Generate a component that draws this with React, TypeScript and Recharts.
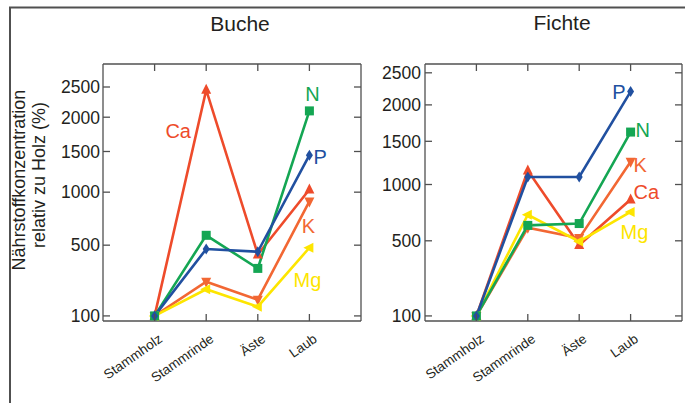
import React from 'react'
import { LineChart, Line, XAxis, YAxis } from 'recharts'

const categories = ['Stammholz', 'Stammrinde', 'Äste', 'Laub']
const yTicks = [100, 500, 1000, 1500, 2000, 2500]

// Buche (relative to Stammholz = 100 %)
const bucheN = [100, 580, 335, 2100]
const bucheP = [100, 470, 450, 1450]
const bucheCa = [100, 2450, 430, 1030]
const bucheK = [100, 255, 165, 900]
const bucheMg = [100, 215, 135, 480]

// Fichte
const fichteN = [100, 620, 635, 1620]
const fichteP = [100, 1080, 1080, 2200]
const fichteCa = [100, 1150, 470, 850]
const fichteK = [100, 600, 520, 1250]
const fichteMg = [100, 710, 495, 735]

const FONT = '"Liberation Sans", Arial, Helvetica, sans-serif'
const INK = '#231f20'
const AXIS = '#505050'

const COLORS: Record<string, string> = {
  N: '#14a653',
  P: '#2150a0',
  Ca: '#ee4b2b',
  K: '#f26733',
  Mg: '#fde500',
}

const SHAPES: Record<string, string> = {
  Ca: 'up',
  K: 'down',
  Mg: 'left',
  N: 'square',
  P: 'diamond',
}

// drawing order (last on top)
const seriesOrder = ['Ca', 'K', 'Mg', 'N', 'P']

function makeRows(n: number[], p: number[], ca: number[], k: number[], mg: number[]) {
  return categories.map((cat, i) => ({
    x: i + 1,
    cat,
    N: n[i],
    P: p[i],
    Ca: ca[i],
    K: k[i],
    Mg: mg[i],
  }))
}

const bucheRows = makeRows(bucheN, bucheP, bucheCa, bucheK, bucheMg)
const fichteRows = makeRows(fichteN, fichteP, fichteCa, fichteK, fichteMg)

interface SeriesLabel {
  index: number
  dx: number
  dy: number
  anchor: 'start' | 'middle' | 'end'
}

const bucheLabels: Record<string, SeriesLabel> = {
  Ca: { index: 1, dx: -28, dy: 48, anchor: 'middle' },
  N: { index: 3, dx: 3, dy: -10, anchor: 'middle' },
  P: { index: 3, dx: 4, dy: 9, anchor: 'start' },
  K: { index: 3, dx: -1, dy: 32, anchor: 'middle' },
  Mg: { index: 3, dx: -2, dy: 39, anchor: 'middle' },
}

const fichteLabels: Record<string, SeriesLabel> = {
  P: { index: 3, dx: -5, dy: 7, anchor: 'end' },
  N: { index: 3, dx: 5, dy: 5, anchor: 'start' },
  K: { index: 3, dx: 3, dy: 10, anchor: 'start' },
  Ca: { index: 3, dx: 3, dy: -1, anchor: 'start' },
  Mg: { index: 3, dx: -10, dy: 27, anchor: 'start' },
}

function markerShape(shape: string, cx: number, cy: number, color: string) {
  switch (shape) {
    case 'square':
      return <rect x={cx - 4.5} y={cy - 4.5} width={9} height={9} fill={color} />
    case 'diamond':
      return (
        <polygon
          points={`${cx},${cy - 5.5} ${cx + 3.5},${cy} ${cx},${cy + 5.5} ${cx - 3.5},${cy}`}
          fill={color}
        />
      )
    case 'up':
      return <polygon points={`${cx},${cy - 6} ${cx + 5},${cy + 4} ${cx - 5},${cy + 4}`} fill={color} />
    case 'down':
      return <polygon points={`${cx - 5},${cy - 4} ${cx + 5},${cy - 4} ${cx},${cy + 6}`} fill={color} />
    default:
      return <polygon points={`${cx - 6},${cy} ${cx + 4},${cy - 5} ${cx + 4},${cy + 5}`} fill={color} />
  }
}

const makeDot = (name: string, labels: Record<string, SeriesLabel>) => (props: any) => {
  const { cx, cy, index } = props
  const color = COLORS[name]
  const lab = labels[name]
  return (
    <g key={`${name}-${index}`}>
      {markerShape(SHAPES[name], cx, cy, color)}
      {lab && lab.index === index && (
        <text
          x={cx + lab.dx}
          y={cy + lab.dy}
          textAnchor={lab.anchor}
          fill={color}
          style={{ fontSize: 20, fontFamily: FONT }}
        >
          {name}
        </text>
      )}
    </g>
  )
}

// ticks point into the plot on every side
const makeLeftTick = (margin: number) => (props: any) => {
  const { x, y, payload } = props
  const ax = x + margin
  return (
    <g>
      <line x1={ax} x2={ax + 7} y1={y} y2={y} stroke={AXIS} strokeWidth={1.3} />
      <text x={x} y={y} dy="0.36em" textAnchor="end" fill={INK} style={{ fontSize: 17.5, fontFamily: FONT }}>
        {payload.value}
      </text>
    </g>
  )
}

const RightTick = (props: any) => {
  const { x, y } = props
  return <line x1={x} x2={x - 7} y1={y} y2={y} stroke={AXIS} strokeWidth={1.3} />
}

const TopTick = (props: any) => {
  const { x, y } = props
  return <line x1={x} x2={x} y1={y} y2={y + 7} stroke={AXIS} strokeWidth={1.3} />
}

const BottomTick = (props: any) => {
  const { x, y, payload } = props
  const tx = x + 3
  const ty = y + 12
  return (
    <g>
      <line x1={x} x2={x} y1={y} y2={y - 7} stroke={AXIS} strokeWidth={1.3} />
      <text
        x={tx}
        y={ty}
        dy="0.72em"
        textAnchor="end"
        transform={`rotate(-35 ${tx} ${ty})`}
        fill={INK}
        style={{ fontSize: 13.5, fontFamily: FONT }}
      >
        {categories[payload.value - 1]}
      </text>
    </g>
  )
}

interface PanelProps {
  rows: ReturnType<typeof makeRows>
  domain: [number, number]
  left: number
  width: number
  yWidth: number
  rightMargin: number
  tickMargin: number
  labels: Record<string, SeriesLabel>
}

const Panel: React.FC<PanelProps> = ({ rows, domain, left, width, yWidth, rightMargin, tickMargin, labels }) => (
  <div style={{ position: 'absolute', left, top: 0, width, height: 403 }}>
    <LineChart
      width={width}
      height={403}
      data={rows}
      margin={{ top: 63, right: rightMargin - 1, bottom: 0, left: 0 }}
    >
      <XAxis
        xAxisId="top"
        orientation="top"
        dataKey="x"
        type="number"
        domain={[0, 5]}
        ticks={[1, 2, 3, 4]}
        interval={0}
        height={1}
        tickSize={0}
        tickMargin={0}
        tickLine={false}
        tick={TopTick}
        stroke={AXIS}
        strokeWidth={1.3}
      />
      <XAxis
        xAxisId="x"
        dataKey="x"
        type="number"
        domain={[0, 5]}
        ticks={[1, 2, 3, 4]}
        interval={0}
        height={82}
        tickSize={0}
        tickMargin={0}
        tickLine={false}
        tick={BottomTick}
        stroke={AXIS}
        strokeWidth={1.3}
      />
      <YAxis
        yAxisId="right"
        orientation="right"
        type="number"
        scale="sqrt"
        domain={domain}
        allowDataOverflow
        ticks={yTicks}
        interval={0}
        width={1}
        tickSize={0}
        tickMargin={0}
        tickLine={false}
        tick={RightTick}
        stroke={AXIS}
        strokeWidth={1.3}
      />
      <YAxis
        yAxisId="y"
        type="number"
        scale="sqrt"
        domain={domain}
        allowDataOverflow
        ticks={yTicks}
        interval={0}
        width={yWidth}
        tickSize={0}
        tickMargin={tickMargin}
        tickLine={false}
        tick={makeLeftTick(tickMargin)}
        stroke={AXIS}
        strokeWidth={1.3}
      />
      {/* invisible series so the top and right frame axes have data */}
      <Line
        xAxisId="top"
        yAxisId="right"
        dataKey="N"
        stroke="none"
        dot={false}
        activeDot={false}
        legendType="none"
        isAnimationActive={false}
      />
      {seriesOrder.map((name) => (
        <Line
          key={name}
          xAxisId="x"
          yAxisId="y"
          dataKey={name}
          stroke={COLORS[name]}
          strokeWidth={2.6}
          dot={makeDot(name, labels)}
          activeDot={false}
          isAnimationActive={false}
        />
      ))}
    </LineChart>
  </div>
)

export default function App() {
  return (
    <div style={{ position: 'absolute', left: 0, top: 0, width: 685, height: 403, background: '#fff', overflow: 'hidden' }}>
      <svg width={685} height={403} style={{ position: 'absolute', left: 0, top: 0 }}>
        <line x1={9} x2={685} y1={7.5} y2={7.5} stroke={AXIS} strokeWidth={2} />
        <line x1={10} x2={10} y1={7} y2={403} stroke={AXIS} strokeWidth={2} />
        <text x={240} y={31} textAnchor="middle" fill={INK} style={{ fontSize: 21, fontFamily: FONT }}>
          Buche
        </text>
        <text x={562} y={30} textAnchor="middle" fill={INK} style={{ fontSize: 21, fontFamily: FONT }}>
          Fichte
        </text>
        <g transform="rotate(-90)">
          <text x={-180} y={25} textAnchor="middle" fill={INK} style={{ fontSize: 18, fontFamily: FONT }}>
            Nährstoffkonzentration
          </text>
          <text x={-175} y={45} textAnchor="middle" fill={INK} style={{ fontSize: 18, fontFamily: FONT }}>
            relativ zu Holz (%)
          </text>
        </g>
      </svg>
      <Panel
        rows={bucheRows}
        domain={[83, 2918]}
        left={0}
        width={370}
        yWidth={103}
        rightMargin={9}
        tickMargin={3}
        labels={bucheLabels}
      />
      <Panel
        rows={fichteRows}
        domain={[84, 2647]}
        left={362}
        width={323}
        yWidth={63}
        rightMargin={3}
        tickMargin={4}
        labels={fichteLabels}
      />
    </div>
  )
}
